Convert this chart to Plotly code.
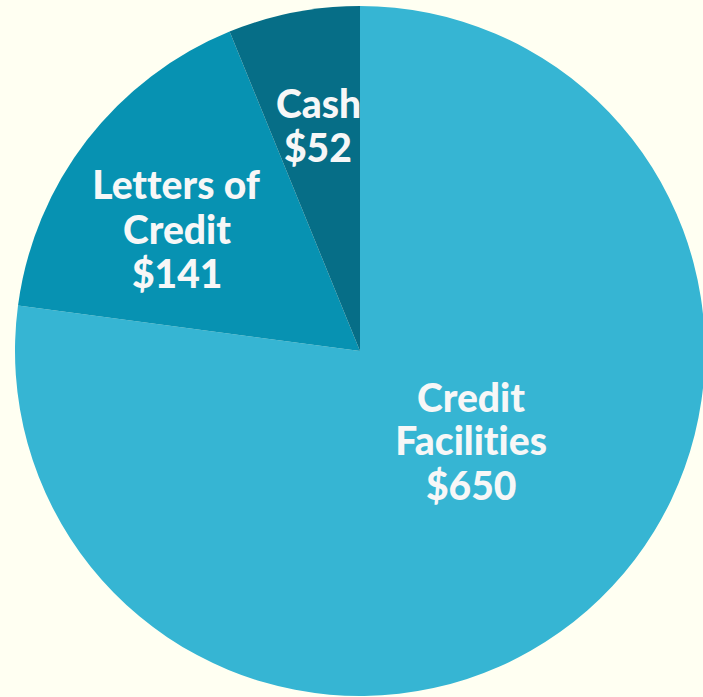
import plotly.graph_objects as go

# Data
labels = ["Credit Facilities", "Letters of Credit", "Cash"]
values = [650, 141, 52]
label_lines = [["Credit", "Facilities"], ["Letters of", "Credit"], ["Cash"]]
colors = ["#36B5D3", "#0792B2", "#066E87"]

W, H = 705, 697
BG = "#FFFFF2"

fig = go.Figure(go.Pie(
    labels=labels,
    values=values,
    sort=False,
    direction="clockwise",
    rotation=0,
    marker=dict(colors=colors, line=dict(width=0)),
    textinfo="none",
    hoverinfo="label+value",
    showlegend=False,
    domain=dict(x=[15 / W, 1.0], y=[0.0, 692 / H]),
))

# label block positions (pixel centers of each text line, top-left origin)
label_pos = [
    (471, [397, 440, 485]),
    (177, [184, 229, 273]),
    (318, [103, 147]),
]

annotations = []
for (lines, v, (cx, ys)) in zip(label_lines, values, label_pos):
    texts = lines + [f"${v}"]
    for t, yy in zip(texts, ys):
        annotations.append(dict(
            x=cx / W, y=1 - yy / H, xref="paper", yref="paper",
            text=t, showarrow=False,
            xanchor="center", yanchor="middle",
            font=dict(family="Lato", size=39, color="#F7F7F7", weight=900),
        ))

fig.update_layout(
    width=W, height=H,
    margin=dict(l=0, r=0, t=0, b=0),
    paper_bgcolor=BG, plot_bgcolor=BG,
    annotations=annotations,
)

post = (
    "document.body.style.margin='0';"
    "document.body.style.overflow='hidden';"
    "document.body.style.background='#FFFFF2';"
    "var s=document.createElement('style');"
    "s.textContent='text{font-variant-ligatures:none !important;font-feature-settings:\"liga\" 0 !important;}';"
    "document.head.appendChild(s);"
)

fig.write_html("out.html", config={"displayModeBar": False}, post_script=post)
